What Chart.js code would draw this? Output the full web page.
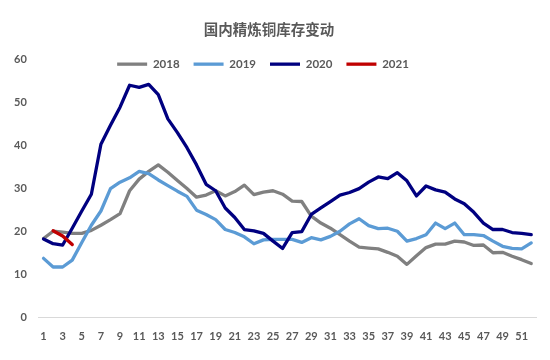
<!DOCTYPE html>
<html><head><meta charset="utf-8">
<script src="https://cdn.jsdelivr.net/npm/chart.js@4/dist/chart.umd.min.js"></script>
<style>html,body{margin:0;padding:0;background:#fff;}#wrap{width:550px;height:360px;}</style>
</head><body><div id="wrap"><canvas id="c" width="550" height="360"></canvas></div>
<script>
const chartTitle = '国内精炼铜库存变动';
const weeks = [1,2,3,4,5,6,7,8,9,10,11,12,13,14,15,16,17,18,19,20,21,22,23,24,25,26,27,28,29,30,31,32,33,34,35,36,37,38,39,40,41,42,43,44,45,46,47,48,49,50,51,52];
const seriesNames = ['2018','2019','2020','2021'];
const s2018 = [18.4,20.1,19.9,19.6,19.6,20.3,21.5,22.8,24.2,29.5,32.2,34.0,35.5,33.8,31.9,30.0,28.0,28.5,29.5,28.3,29.3,30.8,28.6,29.2,29.5,28.7,27.1,27.0,23.6,22.0,20.8,19.3,17.8,16.4,16.2,16.0,15.2,14.3,12.4,14.4,16.3,17.1,17.1,17.8,17.6,16.8,16.9,15.1,15.2,14.3,13.5,12.6];
const s2019 = [13.8,11.8,11.8,13.4,17.5,21.5,24.8,30.0,31.5,32.5,34.0,33.5,32.0,30.7,29.4,28.2,25.0,24.0,22.8,20.5,19.8,18.8,17.2,18.1,18.2,18.2,18.2,17.5,18.6,18.1,18.9,20.1,21.8,23.0,21.4,20.7,20.8,20.1,17.8,18.4,19.3,22.0,20.7,22.0,19.3,19.3,19.1,17.8,16.6,16.1,16.0,17.4];
const s2020 = [18.3,17.2,16.9,20.8,24.8,28.7,40.3,44.7,48.9,54.0,53.5,54.2,51.8,46.2,43.0,39.5,35.5,31.0,29.5,25.5,23.3,20.5,20.2,19.6,17.8,16.1,19.8,20.0,24.0,25.5,27.0,28.5,29.1,30.0,31.5,32.7,32.3,33.7,31.8,28.3,30.6,29.7,29.2,27.6,26.5,24.5,22.0,20.5,20.5,19.8,19.6,19.3];
const s2021 = [null,20.2,19.0,17.0];
const yTicks = [0,10,20,30,40,50,60];

const colors = ['#808080','#5B9BD5','#000080','#C00000'];
const values = [s2018, s2019, s2020, s2021];
const LEGEND_H = 15;

const legendFit = {
  id: 'legendFit',
  beforeInit(chart) {
    if (!chart.legend) return;
    const lg = chart.legend;
    const orig = lg.fit;
    lg.fit = function () { orig.call(this); this.height = LEGEND_H; };
    lg.draw = function () {
      if (!this.options.display) return;
      const ctx = this.ctx;
      ctx.save();
      ctx.translate(-6, 0);
      this._draw();
      ctx.restore();
    };
  }
};

const tickFont = { family: 'Lato, "Noto Sans", sans-serif', size: 11, weight: 'bold' };

new Chart(document.getElementById('c'), {
  type: 'line',
  data: {
    labels: weeks,
    datasets: seriesNames.map((n, i) => ({
      label: n,
      data: values[i],
      borderColor: colors[i],
      backgroundColor: colors[i],
      borderWidth: 3.3,
      pointRadius: 0,
      pointHoverRadius: 0,
      tension: 0,
      fill: false,
      spanGaps: false,
      borderCapStyle: 'round',
      borderJoinStyle: 'round',
      order: 4 - i
    }))
  },
  options: {
    responsive: false,
    devicePixelRatio: 1,
    animation: false,
    layout: { padding: { left: 2, right: 14, top: 0, bottom: 5 } },
    plugins: {
      title: {
        display: true,
        text: chartTitle,
        color: '#595959',
        font: { family: '"Noto Sans CJK SC", sans-serif', size: 14.5, weight: 'bold' },
        padding: { top: 21, bottom: 6 }
      },
      legend: {
        display: true,
        position: 'top',
        labels: {
          color: '#595959',
          font: { family: 'Lato, "Noto Sans", sans-serif', size: 11.5, weight: 'bold' },
          usePointStyle: true,
          pointStyle: 'line',
          pointStyleWidth: 30,
          padding: 14,
          sort: (a, b) => a.datasetIndex - b.datasetIndex
        }
      },
      tooltip: { enabled: false }
    },
    scales: {
      x: {
        type: 'category',
        offset: true,
        grid: { display: false, drawTicks: false },
        border: { display: true, color: '#D9D9D9', width: 1 },
        ticks: {
          autoSkip: false,
          maxRotation: 0,
          minRotation: 0,
          padding: 12,
          color: '#595959',
          font: tickFont,
          callback: function (v, idx) { return idx % 2 === 0 ? weeks[idx] : ''; }
        }
      },
      y: {
        min: yTicks[0],
        max: yTicks[yTicks.length - 1],
        grid: { display: false, drawTicks: false },
        border: { display: false },
        afterBuildTicks: function (axis) { axis.ticks = yTicks.map(v => ({ value: v })); },
        ticks: { padding: 12, color: '#595959', font: tickFont }
      }
    }
  },
  plugins: [legendFit]
});
</script></body></html>
